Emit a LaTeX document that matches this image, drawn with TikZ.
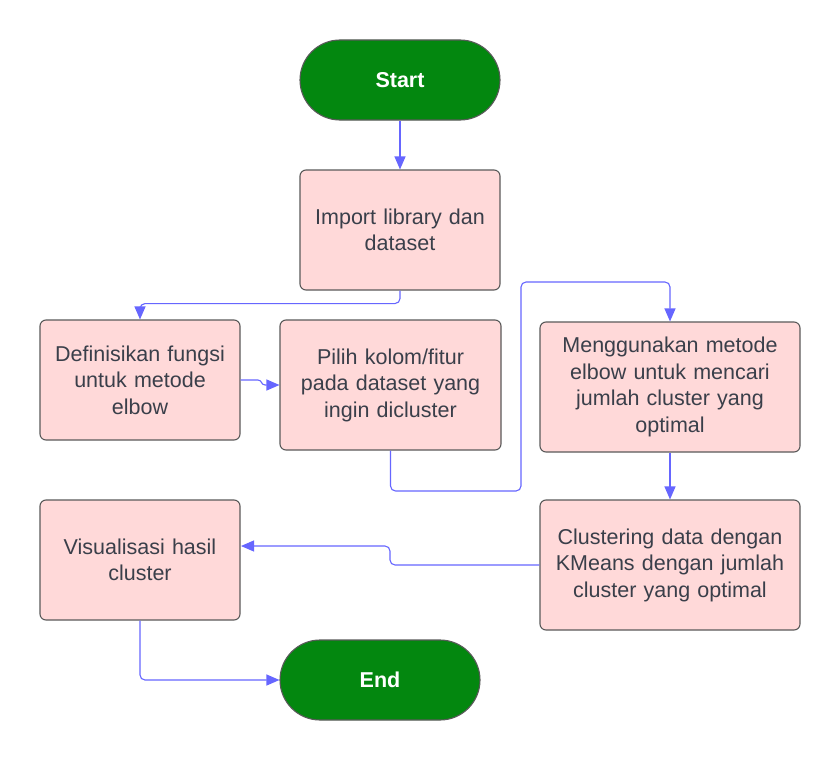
\documentclass[tikz,border=0pt]{standalone}
\usepackage{fontspec}
\setmainfont{Liberation Sans}
\usetikzlibrary{arrows.meta}
\definecolor{boxfill}{HTML}{FFD9D9}
\definecolor{boxline}{HTML}{5A5A5A}
\definecolor{termfill}{HTML}{03870F}
\definecolor{conn}{HTML}{6666FF}
\definecolor{txt}{HTML}{3A3F4A}
\begin{document}
\begin{tikzpicture}[x=1pt,y=-1pt,
  proc/.style={draw=boxline, fill=boxfill, line width=1.1pt, rounded corners=6pt,
    align=center, text=txt, font=\fontsize{21.5}{26.5}\selectfont, inner sep=0pt},
  term/.style={draw=boxline, fill=termfill, line width=1.1pt, rounded corners=40pt,
    minimum width=200pt, minimum height=80pt, text=white,
    font=\fontsize{21.5}{26}\selectfont\bfseries, inner sep=0pt},
  conn/.style={draw=conn, line width=1.1pt, rounded corners=5pt,
    -{Triangle[length=13pt,width=11pt]}}]
\useasboundingbox[fill=white] (0,0) rectangle (840,760);

\node[term] (start) at (400,80) {Start};
\node[proc, minimum width=200pt, minimum height=120pt, text width=190pt] (imp) at (400,230) {Import library dan\\dataset};
\node[proc, minimum width=200pt, minimum height=120pt, text width=190pt] (def) at (140,380) {Definisikan fungsi\\untuk metode\\elbow};
\node[proc, minimum width=221pt, minimum height=130pt, text width=210pt] (pil) at (390.5,385) {Pilih kolom/fitur\\pada dataset yang\\ingin dicluster};
\node[proc, minimum width=260pt, minimum height=130pt, text width=250pt] (men) at (670,387) {Menggunakan metode\\elbow untuk mencari\\jumlah cluster yang\\optimal};
\node[proc, minimum width=260pt, minimum height=130pt, text width=250pt] (clu) at (670,565) {Clustering data dengan\\KMeans dengan jumlah\\cluster yang optimal};
\node[proc, minimum width=200pt, minimum height=120pt, text width=190pt] (vis) at (140,560) {Visualisasi hasil\\cluster};
\node[term] (end) at (380,680) {End};

\coordinate (j1) at (521,491);
\coordinate (j2) at (521,282);
\coordinate (k1) at (390,546);
\coordinate (vin) at (241,546);
\coordinate (p0) at (258,380);
\coordinate (p1) at (265,385);

\draw[conn] (start.south) -- (imp.north);
\draw[conn] (imp.south) -- ++(0,13) -| (def.north);
\draw[conn, rounded corners=0pt] (def.east) -- (p0) .. controls (262,380) and (261,385) .. (p1) -- (pil.west);
\draw[conn] (pil.south) |- (j1) -- (j2) -| (men.north);
\draw[conn] (men.south) -- (clu.north);
\draw[conn] (clu.west) -| (k1) -- (vin);
\draw[conn] (vis.south) |- (end.west);
\end{tikzpicture}
\end{document}
